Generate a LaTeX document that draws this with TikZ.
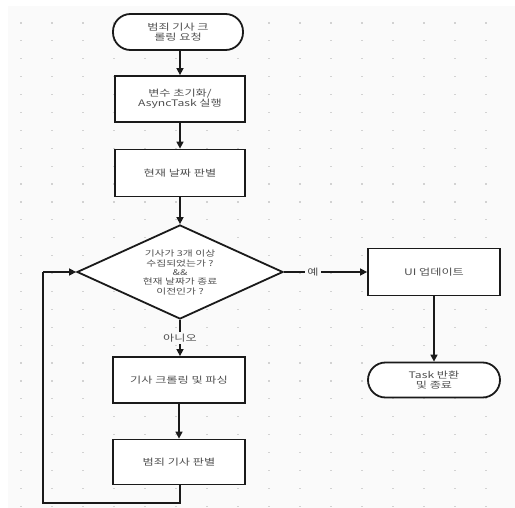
\documentclass[tikz,border=0pt]{standalone}
\usepackage{fontspec}
\newfontfamily\kr[FakeStretch=1.35]{Noto Sans CJK KR}
\usetikzlibrary{shapes.geometric,arrows.meta}
\definecolor{bgc}{HTML}{FAFAFA}
\definecolor{dotc}{HTML}{D2D2D2}
\definecolor{txtc}{HTML}{505050}
\definecolor{linec}{HTML}{1A1A1A}
\tikzset{
  base/.style={draw=linec, line width=1.8pt, fill=white, text=txtc, align=center,
    font=\kr\fontsize{9}{10.5}\selectfont, inner sep=0pt},
  procbox/.style={base, rectangle, minimum width=130pt, minimum height=46pt},
  term/.style={base, rectangle, rounded corners=17.5pt, minimum width=130pt, minimum height=36pt},
  decbox/.style={base, diamond, minimum width=206pt, minimum height=94pt},
  lbl/.style={fill=bgc, text=txtc, font=\kr\fontsize{9}{10.5}\selectfont, inner sep=2pt},
  conn/.style={draw=linec, line width=1.5pt, -{Triangle[length=7pt,width=7pt]}},
  plain/.style={draw=linec, line width=1.5pt}
}
\begin{document}
\begin{tikzpicture}[x=1pt,y=-1pt]
\useasboundingbox (0,0) rectangle (515,508);
\fill[white] (0,0) rectangle (515,508);
\fill[bgc] (8,6) rectangle (515,508);
\foreach \i in {0,...,15} {
  \foreach \j in {0,...,27} {
    \fill[dotc] ({21+31*\i-1.2},{23+17.9*\j-0.6}) rectangle ++(2.4,1.2);
  }
}
\node[term] (start) at (178,32) {범죄 기사 크\\롤링 요청};
\node[procbox] (init) at (180,99) {변수 초기화/\\AsyncTask 실행};
\node[procbox, minimum height=47pt] (date) at (180,173) {현재 날짜 판별};
\node[decbox] (dec) at (180,272) {};
\node[text=txtc, align=center, font=\kr\fontsize{8}{9.3}\selectfont, inner sep=0pt] (dectext) at (180,272.5)
  {기사가 3개 이상\\수집되었는가 ?\\\&\&\\현재 날짜가 종료\\이전인가 ?};
\node[procbox, minimum width=132pt, minimum height=47pt] (ui) at (434,272) {UI 업데이트};
\node[term, minimum width=132pt, minimum height=35pt] (endt) at (434,380) {Task 반환\\및 종료};
\node[procbox, minimum width=132pt] (crawl) at (179,380) {기사 크롤링 및 파싱};
\node[procbox, minimum width=132pt, minimum height=45pt] (judge) at (179,462) {범죄 기사 판별};
\coordinate (lb) at (180,503);
\coordinate (ll) at (43,503);
\coordinate (lt) at (43,272);

\draw[conn] (start.south -| init.north) -- (init.north);
\draw[conn] (init) -- (date);
\draw[conn] (date) -- (dec);
\draw[conn] (dec.east) -- (ui.west) node[lbl, pos=0.35] (yes) {예};
\draw[conn] (dec.south) -- (crawl.north -| dec.south) node[lbl, pos=0.5] (no) {아니오};
\draw[conn] (crawl) -- (judge);
\draw[conn] (ui) -- (endt);
\draw[plain] (judge.south -| lb) -- (lb) -- (ll) -- (lt);
\draw[conn] (lt) -- (dec.west);
\end{tikzpicture}
\end{document}
